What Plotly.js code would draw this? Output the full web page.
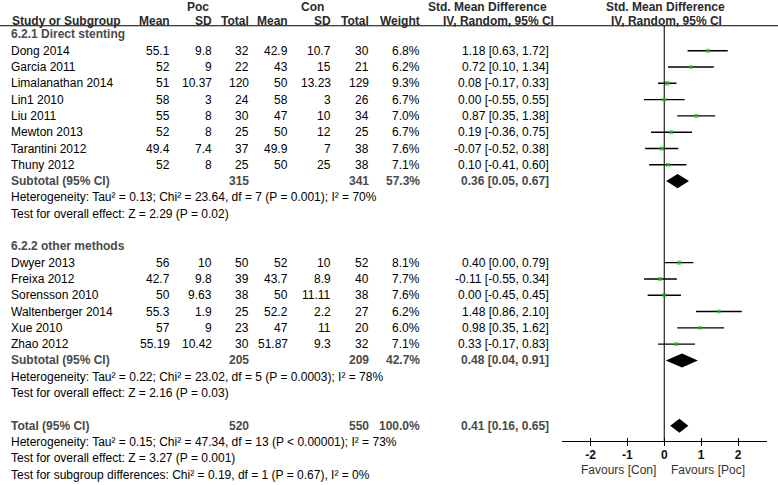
<!DOCTYPE html>
<html>
<head>
<meta charset="utf-8">
<script src="https://cdn.plot.ly/plotly-3.0.1.min.js"></script>
<style>html,body{margin:0;padding:0;background:#fff;}#chart{width:778px;height:485px;}</style>
</head>
<body>
<div id="chart"></div>
<script>
// ---------- data ----------
const group1Label = '6.2.1 Direct stenting';
const studies1 = ['Dong 2014','Garcia 2011','Limalanathan 2014','Lin1 2010','Liu 2011','Mewton 2013','Tarantini 2012','Thuny 2012'];
const pocMean1 = [55.1, 52, 51, 58, 55, 52, 49.4, 52];
const pocSD1   = [9.8, 9, 10.37, 3, 8, 8, 7.4, 8];
const pocN1    = [32, 22, 120, 24, 30, 25, 37, 25];
const conMean1 = [42.9, 43, 50, 58, 47, 50, 49.9, 50];
const conSD1   = [10.7, 15, 13.23, 3, 10, 12, 7, 25];
const conN1    = [30, 21, 129, 26, 34, 25, 38, 38];
const weight1  = [6.8, 6.2, 9.3, 6.7, 7.0, 6.7, 7.6, 7.1];
const smd1     = [1.18, 0.72, 0.08, 0.00, 0.87, 0.19, -0.07, 0.10];
const lo1      = [0.63, 0.10, -0.17, -0.55, 0.35, -0.36, -0.52, -0.41];
const hi1      = [1.72, 1.34, 0.33, 0.55, 1.38, 0.75, 0.38, 0.60];
const sub1     = {pocN: 315, conN: 341, weight: 57.3, smd: 0.36, lo: 0.05, hi: 0.67};
const het1 = 'Heterogeneity: Tau² = 0.13; Chi² = 23.64, df = 7 (P = 0.001); I² = 70%';
const eff1 = 'Test for overall effect: Z = 2.29 (P = 0.02)';

const group2Label = '6.2.2 other methods';
const studies2 = ['Dwyer 2013','Freixa 2012','Sorensson 2010','Waltenberger 2014','Xue 2010','Zhao 2012'];
const pocMean2 = [56, 42.7, 50, 55.3, 57, 55.19];
const pocSD2   = [10, 9.8, 9.63, 1.9, 9, 10.42];
const pocN2    = [50, 39, 38, 25, 23, 30];
const conMean2 = [52, 43.7, 50, 52.2, 47, 51.87];
const conSD2   = [10, 8.9, 11.11, 2.2, 11, 9.3];
const conN2    = [52, 40, 38, 27, 20, 32];
const weight2  = [8.1, 7.7, 7.6, 6.2, 6.0, 7.1];
const smd2     = [0.40, -0.11, 0.00, 1.48, 0.98, 0.33];
const lo2      = [0.00, -0.55, -0.45, 0.86, 0.35, -0.17];
const hi2      = [0.79, 0.34, 0.45, 2.10, 1.62, 0.83];
const sub2     = {pocN: 205, conN: 209, weight: 42.7, smd: 0.48, lo: 0.04, hi: 0.91};
const het2 = 'Heterogeneity: Tau² = 0.22; Chi² = 23.02, df = 5 (P = 0.0003); I² = 78%';
const eff2 = 'Test for overall effect: Z = 2.16 (P = 0.03)';

const total    = {pocN: 520, conN: 550, weight: 100.0, smd: 0.41, lo: 0.16, hi: 0.65};
const hetT = 'Heterogeneity: Tau² = 0.15; Chi² = 47.34, df = 13 (P &lt; 0.00001); I² = 73%';
const effT = 'Test for overall effect: Z = 3.27 (P = 0.001)';
const subTest = 'Test for subgroup differences: Chi² = 0.19, df = 1 (P = 0.67), I² = 0%';

const tickVals = [-2, -1, 0, 1, 2];
const tickText = ['-2', '-1', '0', '1', '2'];
const favLeft = 'Favours [Con]';
const favRight = 'Favours [Poc]';

// ---------- layout helpers ----------
const W = 778, H = 485;
const FONT = 'Liberation Sans, Arial, sans-serif';
const ann = [];
function px(x){ return x / W; }
function txt(x, row, text, anchor, o){
  o = o || {};
  ann.push({xref:'paper', yref:'y', x: px(x), y: row, text: text, showarrow:false,
    xanchor: anchor, yanchor: o.yanchor || 'middle', yshift: o.yshift || 0, borderpad:0,
    font:{family:FONT, size:o.size||12, color:o.color||'#000', weight:o.bold?'bold':'normal'}});
}
const COL = {name:10, pm:171, psd:213, pn:250, cm:288.5, csd:332, cn:370, w:421, ci:550};
const fmt2 = v => v.toFixed(2);
const ciText = (s,l,h) => fmt2(s) + ' [' + fmt2(l) + ', ' + fmt2(h) + ']';
const GRAY = '#4a4a4a', HEAD = '#2a2a2a';

// rows
const rG1 = 0;
const rS1 = studies1.map((_,i)=> rG1 + 1 + i);
const rSub1 = rG1 + studies1.length + 1;
const rG2 = rSub1 + 4;
const rS2 = studies2.map((_,i)=> rG2 + 1 + i);
const rSub2 = rG2 + studies2.length + 1;
const rTot = rSub2 + 4;

// headers
const YTOP = -2.11, YBOT = 27.64;
const rHead1 = -0.82, rLine = -0.53, rAxis = 24.94;
const h0 = {bold:true, color:HEAD, yanchor:'top', yshift:1};
txt(197.5, YTOP, 'Poc', 'center', h0);
txt(312, YTOP, 'Con', 'center', h0);
txt(487, YTOP, 'Std. Mean Difference', 'center', h0);
txt(665, YTOP, 'Std. Mean Difference', 'center', h0);
txt(COL.name+1, rHead1, 'Study or Subgroup', 'left', {bold:true, color:HEAD});
txt(COL.pm, rHead1, 'Mean', 'right', {bold:true, color:HEAD});
txt(COL.psd, rHead1, 'SD', 'right', {bold:true, color:HEAD});
txt(COL.pn, rHead1, 'Total', 'right', {bold:true, color:HEAD});
txt(COL.cm, rHead1, 'Mean', 'right', {bold:true, color:HEAD});
txt(COL.csd, rHead1, 'SD', 'right', {bold:true, color:HEAD});
txt(COL.cn, rHead1, 'Total', 'right', {bold:true, color:HEAD});
txt(COL.w, rHead1, 'Weight', 'right', {bold:true, color:HEAD});
txt(499, rHead1, 'IV, Random, 95% CI', 'center', {bold:true, color:HEAD});
txt(666, rHead1, 'IV, Random, 95% CI', 'center', {bold:true, color:HEAD});

function studyRows(names, pm, psd, pn, cm, csd, cn, w, s, l, h, rows){
  names.forEach((n,i)=>{
    const r = rows[i];
    txt(COL.name, r, n, 'left');
    txt(COL.pm, r, String(pm[i]), 'right');
    txt(COL.psd, r, String(psd[i]), 'right');
    txt(COL.pn, r, String(pn[i]), 'right');
    txt(COL.cm, r, String(cm[i]), 'right');
    txt(COL.csd, r, String(csd[i]), 'right');
    txt(COL.cn, r, String(cn[i]), 'right');
    txt(COL.w, r, w[i].toFixed(1) + '%', 'right');
    txt(COL.ci, r, ciText(s[i], l[i], h[i]), 'right');
  });
}
function pooledRow(label, d, r){
  txt(COL.name, r, label, 'left', {bold:true, color:GRAY});
  txt(COL.pn, r, String(d.pocN), 'right', {bold:true, color:GRAY});
  txt(COL.cn, r, String(d.conN), 'right', {bold:true, color:GRAY});
  txt(COL.w, r, d.weight.toFixed(1) + '%', 'right', {bold:true, color:GRAY});
  txt(COL.ci, r, ciText(d.smd, d.lo, d.hi), 'right', {bold:true, color:GRAY});
}

txt(COL.name, rG1, group1Label, 'left', {bold:true, color:GRAY});
studyRows(studies1, pocMean1, pocSD1, pocN1, conMean1, conSD1, conN1, weight1, smd1, lo1, hi1, rS1);
pooledRow('Subtotal (95% CI)', sub1, rSub1);
txt(COL.name, rSub1+1, het1, 'left');
txt(COL.name, rSub1+2, eff1, 'left');

txt(COL.name, rG2, group2Label, 'left', {bold:true, color:GRAY});
studyRows(studies2, pocMean2, pocSD2, pocN2, conMean2, conSD2, conN2, weight2, smd2, lo2, hi2, rS2);
pooledRow('Subtotal (95% CI)', sub2, rSub2);
txt(COL.name, rSub2+1, het2, 'left');
txt(COL.name, rSub2+2, eff2, 'left');

pooledRow('Total (95% CI)', total, rTot);
txt(COL.name, rTot+1, hetT, 'left');
txt(COL.name, rTot+2, effT, 'left');
txt(COL.name, rTot+3, subTest, 'left');

txt(657, 26.74, favLeft, 'right', {size:12, color:'#333'});
txt(670, 26.74, favRight, 'left', {size:12, color:'#333'});

// ---------- traces ----------
const traces = [];
function studyTrace(s, l, h, w, rows){
  return {type:'scatter', mode:'markers', x:s, y:rows, xaxis:'x', yaxis:'y',
    marker:{symbol:'square', color:'#0fc80f', size:w.map(v=>Math.sqrt(v)*1.45), line:{width:0}},
    error_x:{type:'data', symmetric:false, array:h.map((v,i)=>v-s[i]), arrayminus:l.map((v,i)=>s[i]-v),
      width:0, thickness:1.4, color:'#000'},
    hoverinfo:'skip', showlegend:false, cliponaxis:false};
}
traces.push(studyTrace(smd1, lo1, hi1, weight1, rS1));
traces.push(studyTrace(smd2, lo2, hi2, weight2, rS2));
const DH = 0.43;
function diamond(d, r){
  return {type:'scatter', mode:'lines', x:[d.lo, d.smd, d.hi, d.smd, d.lo], y:[r, r-DH, r, r+DH, r],
    fill:'toself', fillcolor:'#000', line:{width:0, color:'#000'}, hoverinfo:'skip', showlegend:false};
}
traces.push(diamond(sub1, rSub1));
traces.push(diamond(sub2, rSub2));
traces.push(diamond(total, rTot));
traces.push({type:'scatter', mode:'markers', x:[0], y:[rTot], xaxis:'x2', yaxis:'y',
  marker:{opacity:0}, hoverinfo:'skip', showlegend:false});

const XR = [-2.78, 2.78];
const XD = [561.7/W, 766.9/W];
const axisPos = 1 - 441/H;

const layout = {
  width: W, height: H, margin:{l:0, r:0, t:0, b:0}, paper_bgcolor:'#fff', plot_bgcolor:'rgba(0,0,0,0)',
  showlegend:false,
  xaxis:{domain:XD, range:XR, anchor:'free', position:axisPos, showgrid:false, zeroline:false,
    showline:true, linecolor:'#000', linewidth:1.2, ticks:'outside', ticklen:3.5, tickwidth:1.2, tickcolor:'#000',
    ticklabelstandoff:-1,
    tickvals:tickVals, ticktext:tickText, tickfont:{family:FONT, size:12, color:'#111', weight:'bold'}, fixedrange:true},
  xaxis2:{domain:XD, range:XR, overlaying:'x', anchor:'free', position:axisPos, showgrid:false, zeroline:false,
    showline:false, ticks:'inside', ticklen:3.5, tickwidth:1.2, tickcolor:'#000', tickvals:tickVals,
    showticklabels:false, fixedrange:true},
  yaxis:{domain:[0,1], range:[YBOT, YTOP], visible:false, showgrid:false, zeroline:false, fixedrange:true},
  shapes:[
    {type:'line', xref:'paper', yref:'y', x0:0, x1:1, y0:rLine, y1:rLine, line:{color:'#000', width:1.2}},
    {type:'line', xref:'x', yref:'y', x0:0, x1:0, y0:rLine, y1:rAxis, line:{color:'#333', width:1.3}, layer:'below'}
  ],
  annotations: ann
};
Plotly.newPlot('chart', traces, layout, {staticPlot:true, displayModeBar:false});
</script>
</body>
</html>
